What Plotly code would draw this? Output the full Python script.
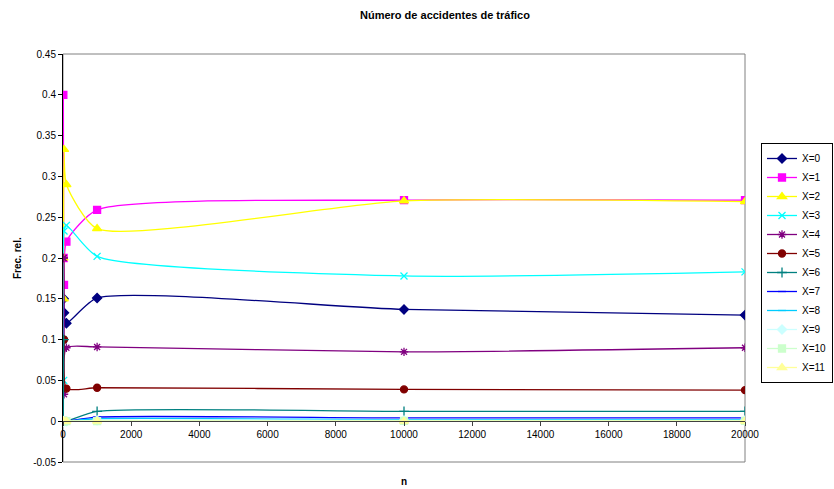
import plotly.graph_objects as go

n_vals = [10, 20, 30, 100, 1000, 10000, 20000]

series_names = ["X=0", "X=1", "X=2", "X=3", "X=4", "X=5", "X=6", "X=7", "X=8", "X=9", "X=10", "X=11"]

x0 = [0.1, 0.15, 0.133, 0.12, 0.151, 0.137, 0.130]
x1 = [0.4, 0.2, 0.167, 0.22, 0.259, 0.271, 0.271]
x2 = [0.2, 0.15, 0.333, 0.29, 0.236, 0.270, 0.269]
x3 = [0.1, 0.05, 0.233, 0.24, 0.202, 0.178, 0.183]
x4 = [0.2, 0.2, 0.033, 0.09, 0.091, 0.085, 0.090]
x5 = [0.0, 0.1, 0.1, 0.04, 0.041, 0.039, 0.038]
x6 = [0.0, 0.1, 0.0, 0.0, 0.012, 0.012, 0.012]
x7 = [0.0, 0.0, 0.0, 0.0, 0.005, 0.004, 0.004]
x8 = [0.0, 0.0, 0.0, 0.0, 0.003, 0.002, 0.002]
x9 = [0.0, 0.0, 0.0, 0.0, 0.001, 0.001, 0.001]
x10 = [0.0, 0.0, 0.0, 0.0, 0.0, 0.0003, 0.0003]
x11 = [0.0, 0.0, 0.0, 0.0, 0.0, 0.0, 0.0]

all_series = [x0, x1, x2, x3, x4, x5, x6, x7, x8, x9, x10, x11]

colors = ["#000080", "#FF00FF", "#FFFF00", "#00FFFF", "#800080", "#800000",
          "#008080", "#0000FF", "#00CCFF", "#CCFFFF", "#CCFFCC", "#FFFF99"]
symbols = ["diamond", "square", "triangle-up", "x-thin-open", "asterisk-open", "circle",
           "cross-thin-open", "line-ew-open", "line-ew-open", "diamond", "square", "triangle-up"]
sizes = [7, 7, 8, 7, 7, 7, 7, 6, 6, 7, 7, 8]

x_ticks = list(range(0, 20001, 2000))
x_ticktext = [str(v) for v in x_ticks]
y_ticks = [-0.05, 0, 0.05, 0.1, 0.15, 0.2, 0.25, 0.3, 0.35, 0.4, 0.45]
y_ticktext = ["-0.05", "0", "0.05", "0.1", "0.15", "0.2", "0.25", "0.3", "0.35", "0.4", "0.45"]

fig = go.Figure()
for name, ys, c, s, sz in zip(series_names, all_series, colors, symbols, sizes):
    fig.add_trace(go.Scatter(
        x=n_vals, y=ys, name=name, mode="lines+markers",
        line=dict(color=c, width=1.3, shape="spline", smoothing=0.6),
        marker=dict(color=c, symbol=s, size=sz, line=dict(color=c, width=1.3)),
    ))

W, H = 834, 489
L, R, T, B = 63, 89, 54, 27
PW, PH = W - L - R, H - T - B

fig.update_layout(
    width=W, height=H,
    margin=dict(l=L, r=R, t=T, b=B, autoexpand=False),
    paper_bgcolor="white", plot_bgcolor="white",
    font=dict(family="Liberation Sans, Arial, sans-serif", size=10, color="black"),
    showlegend=True,
    legend=dict(x=(761 - L) / PW, y=(H - 143 - B) / PH,
                xanchor="left", yanchor="top",
                bordercolor="black", borderwidth=1, bgcolor="white",
                font=dict(size=10), itemwidth=30, tracegroupgap=0,
                traceorder="normal"),
    xaxis=dict(range=[0, 20000], tickvals=x_ticks, ticktext=x_ticktext,
               showgrid=False, zeroline=False,
               showline=True, linecolor="#404040", linewidth=1,
               ticks="outside", ticklen=4, tickcolor="#404040",
               anchor="free", position=0.1, tickfont=dict(size=10)),
    yaxis=dict(range=[-0.05, 0.45], tickvals=y_ticks, ticktext=y_ticktext,
               showgrid=False, zeroline=False, showline=True, linecolor="black",
               linewidth=1, ticks="outside", ticklen=4, tickcolor="black",
               tickfont=dict(size=10)),
    shapes=[dict(type="rect", xref="paper", yref="paper", x0=0, x1=1, y0=0, y1=1,
                 line=dict(color="#808080", width=1), layer="below")],
    annotations=[
        dict(text="<b>Número de accidentes de tráfico</b>", xref="paper", yref="paper",
             x=(445 - L) / PW, y=(H - 15 - B) / PH,
             xanchor="center", yanchor="middle", showarrow=False, font=dict(size=11)),
        dict(text="<b>n</b>", xref="paper", yref="paper",
             x=(404 - L) / PW, y=(H - 481 - B) / PH,
             xanchor="center", yanchor="middle", showarrow=False, font=dict(size=10)),
        dict(text="<b>Frec. rel.</b>", xref="paper", yref="paper",
             x=(17 - L) / PW, y=(H - 258 - B) / PH,
             xanchor="center", yanchor="middle", showarrow=False, textangle=-90,
             font=dict(size=10)),
    ],
)

fig.write_html("out.html", config={"displayModeBar": False},
               post_script="document.body.style.margin='0';")
